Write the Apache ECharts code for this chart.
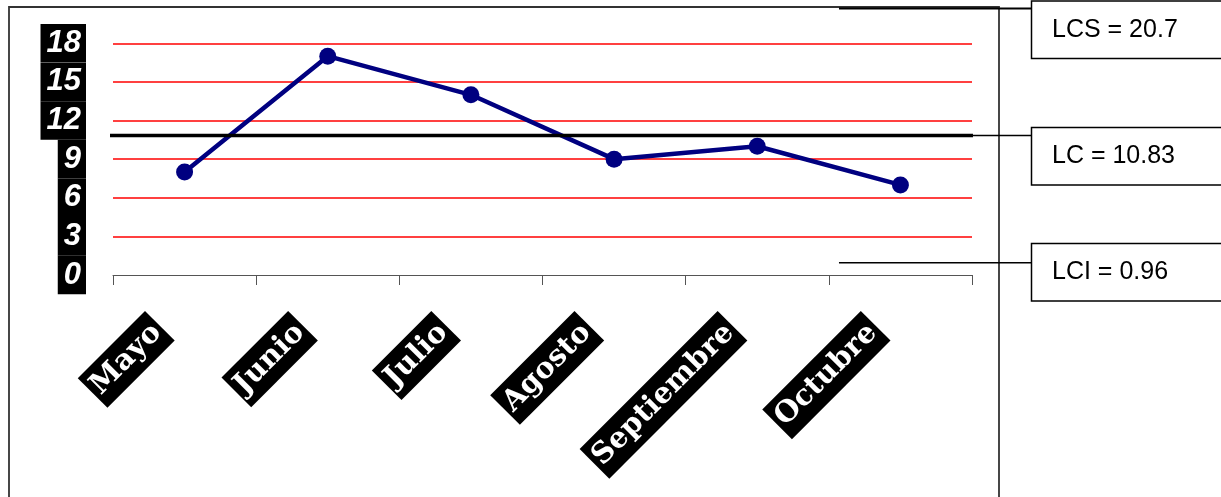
<!DOCTYPE html>
<html>
<head>
<meta charset="utf-8">
<script src="https://cdn.jsdelivr.net/npm/echarts@6/dist/echarts.min.js"></script>
<style>
  html, body { margin: 0; padding: 0; background: #ffffff; }
  #chart { width: 1221px; height: 497px; }
</style>
</head>
<body>
<div id="chart"></div>
<script>
// Monthly values of the control chart
const categories = ['Mayo', 'Junio', 'Julio', 'Agosto', 'Septiembre', 'Octubre'];
const monthlyValues = [8, 17, 14, 9, 10, 7];
const yTickLabels = [0, 3, 6, 9, 12, 15, 18];

// Control limits: upper, centre, lower
const limitNames = ['LCS', 'LC', 'LCI'];
const limitValues = [20.7, 10.83, 0.96];

// Layout
const PLOT = { left: 113, right: 249, top: 4.7, bottom: 222 };
const Y_MAX = 21;
// Overlay grid that carries the limit leaders out to the callout boxes
const LEADER_GRID = { left: 110, right: 190, top: PLOT.top, bottom: PLOT.bottom };
const LEADER_SHORT_START = 0.7915;   // upper/lower leaders start near the right of the plot
const LEADER_PLOT_EDGE = 0.937;      // where the centre line leaves the plot area
const BOX_TOPS = [1, 127.5, 243.5];
const BOX_HEIGHT = 57.5;

const limit = name => limitValues[limitNames.indexOf(name)];

function leader(data, width) {
  return {
    type: 'line', xAxisIndex: 1, yAxisIndex: 1, data: data,
    symbol: 'none', silent: true, z: 5,
    lineStyle: { color: '#000', width: width }
  };
}

const chart = echarts.init(document.getElementById('chart'), null, { renderer: 'canvas' });

const graphics = [
  {
    type: 'rect', z: 0, silent: true,
    shape: { x: 9, y: 7, width: 990, height: 520 },
    style: { fill: 'none', stroke: '#333', lineWidth: 1.8 }
  }
];
limitNames.forEach((name, i) => {
  graphics.push({
    type: 'rect', z: 10, silent: true,
    shape: { x: 1031.5, y: BOX_TOPS[i], width: 230, height: BOX_HEIGHT },
    style: { fill: '#fff', stroke: '#000', lineWidth: 1.5 }
  });
  graphics.push({
    type: 'text', z: 11, silent: true,
    style: {
      text: name + ' = ' + limitValues[i],
      x: 1052, y: BOX_TOPS[i] + BOX_HEIGHT / 2,
      verticalAlign: 'middle', align: 'left',
      font: '25px "Liberation Sans", Arial, sans-serif',
      fill: '#000'
    }
  });
});

chart.setOption({
  animation: false,
  backgroundColor: '#fff',
  grid: [
    { left: PLOT.left, right: PLOT.right, top: PLOT.top, bottom: PLOT.bottom },
    { left: LEADER_GRID.left, right: LEADER_GRID.right, top: LEADER_GRID.top, bottom: LEADER_GRID.bottom }
  ],
  xAxis: [
    {
      type: 'category', gridIndex: 0, data: categories, boundaryGap: true,
      axisLine: { show: true, lineStyle: { color: '#555', width: 1 } },
      axisTick: { show: true, alignWithLabel: false, length: 10, inside: false, lineStyle: { color: '#555', width: 1 } },
      splitLine: { show: false },
      axisLabel: {
        interval: 0, rotate: 45, margin: 26, hideOverlap: false,
        formatter: v => '{t|' + v + '}{g|}',
        rich: {
          t: {
            color: '#fff', backgroundColor: '#000',
            fontFamily: '"DejaVu Serif", serif', fontWeight: 'bold', fontSize: 29,
            height: 42, lineHeight: 42, padding: [0, 4]
          },
          g: { width: 35 }
        }
      }
    },
    { type: 'value', gridIndex: 1, min: 0, max: 1, show: false }
  ],
  yAxis: [
    {
      type: 'value', gridIndex: 0, min: 0, max: Y_MAX, interval: 3,
      axisLine: { show: false },
      axisTick: { show: false },
      splitLine: { show: true, showMinLine: false, showMaxLine: false, lineStyle: { color: '#ff0000', width: 1.5 } },
      axisLabel: {
        showMinLabel: true, showMaxLabel: false, hideOverlap: false, margin: 27,
        formatter: v => (yTickLabels.indexOf(v) >= 0 ? String(v) : ''),
        color: '#fff', backgroundColor: '#000',
        fontFamily: '"Liberation Sans", Arial, sans-serif',
        fontStyle: 'italic', fontWeight: 'bold', fontSize: 31,
        lineHeight: 38.6, padding: [0, 5, 0, 6]
      }
    },
    { type: 'value', gridIndex: 1, min: 0, max: Y_MAX, show: false }
  ],
  series: [
    {
      name: 'Valor', type: 'line', xAxisIndex: 0, yAxisIndex: 0,
      data: monthlyValues, z: 3,
      symbol: 'circle', symbolSize: 17,
      itemStyle: { color: '#000080' },
      lineStyle: { color: '#000080', width: 4.5 }
    },
    leader([[0, limit('LC')], [LEADER_PLOT_EDGE, limit('LC')]], 3.5),
    leader([[LEADER_PLOT_EDGE, limit('LC')], [1, limit('LC')]], 1.5),
    leader([[LEADER_SHORT_START, limit('LCS')], [1, limit('LCS')]], 2),
    leader([[LEADER_SHORT_START, limit('LCI')], [1, limit('LCI')]], 1.5)
  ],
  graphic: graphics
});
</script>
</body>
</html>
